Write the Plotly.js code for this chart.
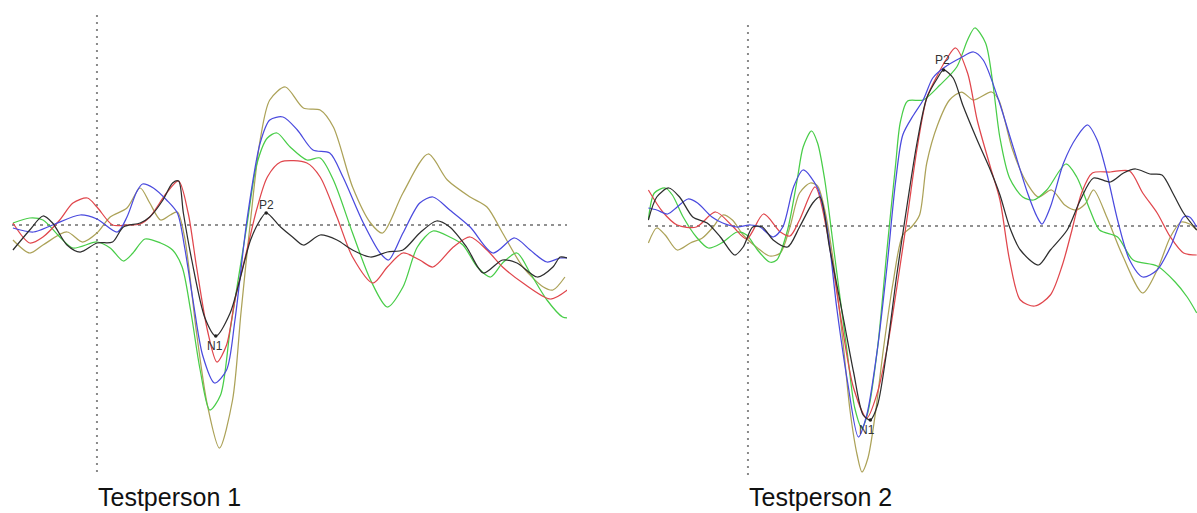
<!DOCTYPE html>
<html>
<head>
<meta charset="utf-8">
<script src="https://cdn.plot.ly/plotly-3.0.1.min.js"></script>
<style>html,body{margin:0;padding:0;background:#fff}#chart{width:1197px;height:513px}</style>
</head>
<body>
<div id="chart"></div>
<script>
// ---------- Testperson 1 (time in ms, amplitude in µV) ----------
const p1BlackT = [-70,-56,-45,-37,-25,-14,0,13,22,36,44,55,63,68,72,79,90,99,111,119,128,136,141,153,163,172,186,200,213,228,242,255,269,283,294,308,322,338,350,367,380,386,392];
const p1BlackV = [-1.25,-0.25,0.45,0.1,-1.0,-1.35,-0.9,-0.85,-0.1,0.1,0.4,1.25,2.1,2.2,0.6,-1.75,-4.65,-5.55,-4.4,-2.75,-0.75,0.25,0.6,-0.1,-0.6,-1.0,-0.5,-0.75,-1.25,-1.6,-1.35,-1.25,-0.4,0.2,-0.1,-1.1,-2.4,-1.75,-1.9,-2.6,-2.1,-1.6,-1.65];

const p1RedT = [-70,-56,-45,-31,-20,-8,0,13,25,36,44,58,68,76,83,92,100,108,115,125,133,142,153,175,186,200,213,230,242,255,269,280,297,311,325,338,355,378,392];
const p1RedV = [0.1,-0.9,-0.6,0.25,1.1,1.35,0.9,0,0,0.05,0.4,1.6,2.2,0.6,-2.1,-5.25,-6.85,-6.0,-3.75,-1.25,0.75,2.4,3.15,3.1,2.4,0.4,-1.6,-2.9,-2.1,-1.4,-1.75,-2.1,-1.1,-0.6,-1.25,-2.1,-2.9,-3.7,-3.25];

const p1BlueT = [-70,-53,-37,-14,0,17,25,33,38,47,58,67,73,80,88,98,108,115,125,136,144,155,167,180,194,205,222,236,243,255,269,280,294,311,330,348,361,375,386,392];
const p1BlueV = [-0.15,-0.35,0,0.5,0.3,-0.35,0.4,1.65,2.05,1.85,1.25,0.6,-1.1,-3.75,-6.5,-7.9,-7.25,-4.75,0.25,4.1,5.25,5.4,4.75,3.75,3.6,2.4,0.1,-1.4,-1.75,-0.4,1.1,1.4,0.75,-0.1,-1.4,-0.65,-1.25,-1.85,-1.65,-1.65];

const p1GreenT = [-70,-56,-45,-31,-20,0,11,22,30,40,53,63,71,78,86,94,103,111,125,133,142,150,161,175,186,197,213,228,242,255,267,280,294,305,317,328,338,350,361,375,388,392];
const p1GreenV = [0.1,0.35,0.25,-0.6,-1.15,-0.85,-1.15,-1.8,-1.4,-0.7,-0.9,-1.25,-2.1,-4.25,-7.25,-9.25,-8.5,-5.25,0,3.0,4.35,4.6,3.9,3.25,3.35,2.25,-0.4,-2.75,-4.1,-3.1,-1.1,-0.3,-0.6,-1.0,-2.1,-2.6,-1.9,-1.4,-2.4,-3.75,-4.6,-4.65];

const p1OliveT = [-70,-56,-45,-25,-12,0,11,25,36,44,53,61,67,73,83,92,102,113,120,128,136,144,157,172,186,197,213,228,238,255,276,292,311,325,338,355,372,380,390];
const p1OliveV = [-0.75,-1.4,-1.0,-0.35,-0.85,-0.4,0.4,0.85,1.85,1.1,0.25,0.5,0.65,-0.6,-5.4,-9.0,-11.15,-8.75,-4.4,0.25,4.25,6.25,6.9,5.85,5.75,4.9,1.9,0.1,-0.4,1.6,3.55,2.25,1.4,0.9,-0.4,-2.1,-3.1,-3.25,-2.6];

// ---------- Testperson 2 ----------
const p2BlackT = [-83,-76,-66,-57,-46,-34,-23,-11,-4,4,12,21,33,43,54,60,68,79,88,96,102,108,116,124,133,141,149,158,163,171,179,191,202,210,218,227,242,252,266,277,288,302,313,323,335,345,354,363,374];
const p2BlackV = [0.3,1.45,1.9,1.45,0.45,0.15,-0.55,-1.45,-1.05,-0.05,-0.05,-0.7,-1.05,-0.05,1.15,1.45,-1.1,-4.45,-7.3,-9.45,-9.7,-8.95,-6.1,-2.45,1.2,4.2,6.4,7.4,7.8,7.4,6.05,4.3,2.8,1.55,-0.05,-1.2,-1.95,-1.2,-0.2,1.3,2.4,2.2,2.65,2.85,2.6,2.55,1.65,0.65,-0.2];

const p2RedT = [-83,-71,-59,-43,-27,-13,-1,13,27,35,43,56,66,77,88,99,108,116,124,133,141,149,158,166,173,183,191,202,210,218,227,239,252,262,270,278,287,302,318,329,341,352,363,374];
const p2RedV = [1.8,0.7,0.05,-0.05,0.7,0,-0.65,0.6,-0.3,-0.5,0.3,1.95,-0.3,-4.45,-8.1,-9.6,-8.3,-6.1,-3.1,0.55,3.9,6.4,7.55,8.4,8.9,7.65,5.3,2.95,1.3,-1.7,-3.7,-4.0,-3.45,-1.95,-0.2,1.65,2.65,2.7,2.75,1.65,0.65,-0.55,-1.35,-1.45];

const p2BlueT = [-83,-76,-67,-59,-50,-42,-30,-21,-9,2,10,21,29,38,46,58,66,74,83,92,99,108,116,123,129,138,146,154,163,177,188,196,208,221,233,241,245,252,263,274,283,291,299,308,318,329,341,352,363,368,374];
const p2BlueV = [0.9,0.8,0.6,0.95,1.35,1.15,0.45,0.15,-0.05,0.05,-0.05,-0.55,-0.05,1.95,2.8,1.9,-0.1,-4.1,-7.8,-10.55,-9.45,-6.1,-1.95,2.2,4.55,5.55,6.3,7.4,7.9,8.4,8.7,8.3,6.45,3.95,1.65,0.45,0.1,0.95,3.15,4.45,5.05,4.3,2.65,0.3,-1.7,-2.55,-2.2,-1.05,0.45,0.45,-0.05];

const p2GreenT = [-83,-78,-69,-63,-54,-43,-33,-22,-9,-1,8,18,24,33,41,46,53,58,64,70,77,83,89,95,100,108,116,123,127,133,146,160,174,183,189,198,204,210,218,229,238,249,265,274,285,293,308,321,341,356,366,374];
const p2GreenV = [0.3,1.65,1.9,1.55,0.45,-0.55,-1.1,-0.85,-0.3,-0.45,-1.2,-1.8,-1.7,-0.2,2.3,3.95,4.75,4.15,2.3,-0.45,-3.7,-6.45,-9.1,-10.1,-9.3,-6.1,-1.1,3.05,5.2,6.25,6.3,7.05,7.95,9.3,9.9,9.15,7.15,4.4,2.4,1.45,1.3,1.8,3.1,2.45,0.8,-0.2,-0.55,-1.7,-2.0,-2.8,-3.55,-4.35];

const p2OliveT = [-83,-76,-69,-59,-48,-38,-29,-21,-13,-4,8,18,27,35,43,52,58,64,71,79,85,91,95,100,106,113,121,129,137,143,149,158,168,178,188,203,209,220,231,242,253,264,273,281,288,299,312,329,341,352,361,368,374];
const p2OliveV = [-0.85,-0.1,-0.45,-1.2,-0.85,-0.6,-0.05,0.55,0.3,-0.45,-1.1,-1.5,-1.35,-0.05,1.65,2.15,2.0,0.8,-1.7,-5.7,-9.2,-11.45,-12.3,-11.6,-9.45,-6.1,-2.8,-0.45,0,0.55,3.15,5.05,6.3,6.7,6.3,6.7,6.3,3.9,2.3,1.45,1.8,1.05,0.8,1.1,1.8,0.45,-1.45,-3.35,-2.2,-0.55,0.2,0.1,-0.2];

const panelLabels = ["Testperson 1", "Testperson 2"];
const peakLabels = ["N1", "P2"];

// ---------- styles ----------
const colors = {black:'#2e2e2e', red:'#e0464c', blue:'#4a4ade', green:'#48cd48', olive:'#aca258'};
function tr(t, v, c, xa, ya) {
  return {x:t, y:v, type:'scatter', mode:'lines', xaxis:xa, yaxis:ya,
          line:{color:colors[c], width:1.25, shape:'spline', smoothing:0.8},
          hoverinfo:'skip'};
}
// peak markers on the black (reference) curve: N1 = minimum, P2 = maximum after N1
function peaks(t, v) {
  let iN = 0;
  for (let i = 1; i < v.length; i++) if (v[i] < v[iN]) iN = i;
  let iP = iN + 1;
  for (let i = iN + 1; i < v.length && t[i] < t[iN] + 80; i++) if (v[i] > v[iP]) iP = i;
  return {x:[t[iN], t[iP]], y:[v[iN], v[iP]]};
}
function peakTrace(t, v, xa, ya) {
  const p = peaks(t, v);
  return {x:p.x, y:p.y, type:'scatter', mode:'markers', xaxis:xa, yaxis:ya,
          marker:{color:'#222', size:3.5, symbol:'circle'}, hoverinfo:'skip'};
}
const data = [
  tr(p1OliveT,p1OliveV,'olive','x','y'),
  tr(p1GreenT,p1GreenV,'green','x','y'),
  tr(p1RedT,p1RedV,'red','x','y'),
  tr(p1BlueT,p1BlueV,'blue','x','y'),
  tr(p1BlackT,p1BlackV,'black','x','y'),
  peakTrace(p1BlackT,p1BlackV,'x','y'),
  tr(p2OliveT,p2OliveV,'olive','x2','y2'),
  tr(p2GreenT,p2GreenV,'green','x2','y2'),
  tr(p2RedT,p2RedV,'red','x2','y2'),
  tr(p2BlueT,p2BlueV,'blue','x2','y2'),
  tr(p2BlackT,p2BlackV,'black','x2','y2'),
  peakTrace(p2BlackT,p2BlackV,'x2','y2')
];

const hidden = {showgrid:false, zeroline:false, showline:false, showticklabels:false, ticks:'', fixedrange:true};
const x1Range = [-70.8, 391.7], x2Range = [-83.3, 374.2];
const dotV = {color:'#8a8a8a', width:2, dash:'2px,5px'};
const dotH = {color:'#6e6e6e', width:1.5, dash:'3px,4px'};
const capFont = {family:'Arial, "Liberation Sans", sans-serif', size:25, color:'#111'};
const pkFont = {family:'Arial, "Liberation Sans", sans-serif', size:12, color:'#333'};

const layout = {
  width:1197, height:513,
  margin:{l:0, r:0, t:0, b:0, pad:0},
  paper_bgcolor:'#ffffff', plot_bgcolor:'rgba(0,0,0,0)',
  showlegend:false,
  xaxis: Object.assign({domain:[12/1197, 567/1197], range:x1Range}, hidden),
  yaxis: Object.assign({domain:[0,1], range:[-14.4, 11.25]}, hidden),
  xaxis2: Object.assign({domain:[648/1197, 1], range:x2Range, anchor:'y2'}, hidden),
  yaxis2: Object.assign({domain:[0,1], range:[-14.35, 11.3], anchor:'x2'}, hidden),
  shapes: [
    {type:'line', xref:'x', yref:'y', x0:0, x1:0, y0:-12.35, y1:10.65, line:dotV, layer:'below'},
    {type:'line', xref:'x', yref:'y', x0:x1Range[0], x1:x1Range[1], y0:0, y1:0, line:dotH, layer:'below'},
    {type:'line', xref:'x2', yref:'y2', x0:0, x1:0, y0:-12.45, y1:10.3, line:dotV, layer:'below'},
    {type:'line', xref:'x2', yref:'y2', x0:x2Range[0], x1:x2Range[1], y0:0, y1:0, line:dotH, layer:'below'}
  ],
  annotations: [
    {text:panelLabels[0], xref:'paper', yref:'paper', x:97/1197, y:0.002, xanchor:'left', yanchor:'bottom', showarrow:false, borderpad:0, font:capFont},
    {text:panelLabels[1], xref:'paper', yref:'paper', x:748/1197, y:0.002, xanchor:'left', yanchor:'bottom', showarrow:false, borderpad:0, font:capFont},
    {text:peakLabels[0], xref:'x', yref:'y', x:98, y:-6.05, showarrow:false, font:pkFont},
    {text:peakLabels[1], xref:'x', yref:'y', x:141, y:1.0, showarrow:false, font:pkFont},
    {text:peakLabels[0], xref:'x2', yref:'y2', x:99, y:-10.2, showarrow:false, font:pkFont},
    {text:peakLabels[1], xref:'x2', yref:'y2', x:162, y:8.3, showarrow:false, font:pkFont}
  ]
};

Plotly.newPlot('chart', data, layout, {displayModeBar:false, staticPlot:true});
</script>
</body>
</html>
